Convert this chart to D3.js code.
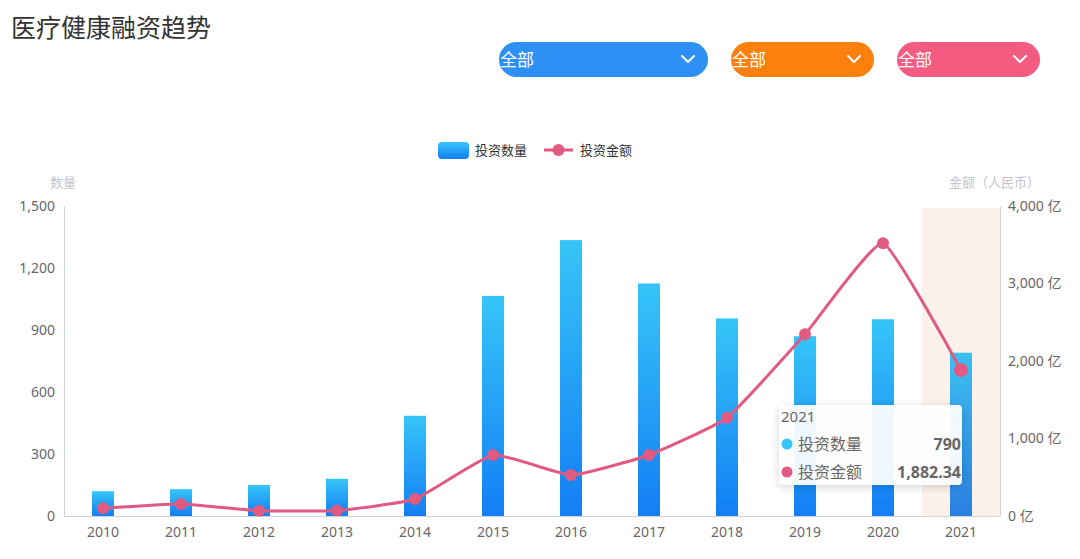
<!DOCTYPE html>
<html>
<head>
<meta charset="utf-8">
<script src="https://cdn.jsdelivr.net/npm/d3@7"></script>
<style>
  body { margin: 0; background: #fff; font-family: "Noto Sans", "Noto Sans CJK SC", sans-serif; }
  #chart { width: 1080px; height: 559px; }
</style>
</head>
<body>
<div id="chart"></div>
<script>
const years = ["2010","2011","2012","2013","2014","2015","2016","2017","2018","2019","2020","2021"];
const counts = [120, 130, 150, 180, 485, 1065, 1335, 1125, 956, 870, 952, 790];
const amounts = [100, 155, 68, 70, 219, 787, 529, 787, 1268, 2344, 3519, 1882.34];
const countTicks = [0, 300, 600, 900, 1200, 1500];
const amountTicks = [0, 1000, 2000, 3000, 4000];
const filters = [
  {label: "全部", color: "#2e8ff5", x: 499, w: 209},
  {label: "全部", color: "#fd800f", x: 731, w: 143},
  {label: "全部", color: "#f45b80", x: 897, w: 143}
];

const W = 1080, H = 559;
const margin = {top: 206, right: 80, bottom: 43, left: 64};
const width = W - margin.left - margin.right;
const height = H - margin.top - margin.bottom;
const font = '"Noto Sans", "Noto Sans CJK SC", sans-serif';
const cjk = '"Noto Sans CJK SC", sans-serif';
const lineColor = "#e05a82";

const svg = d3.select("#chart").append("svg")
  .attr("width", W).attr("height", H)
  .style("font-family", font);

const defs = svg.append("defs");
const grad = defs.append("linearGradient").attr("id", "barGrad")
  .attr("x1", 0).attr("y1", 0).attr("x2", 0).attr("y2", 1);
grad.append("stop").attr("offset", "0%").attr("stop-color", "#36c5f7");
grad.append("stop").attr("offset", "100%").attr("stop-color", "#137ef5");
const gradHi = defs.append("linearGradient").attr("id", "barGradHi")
  .attr("x1", 0).attr("y1", 0).attr("x2", 0).attr("y2", 1);
gradHi.append("stop").attr("offset", "0%").attr("stop-color", "#3cbff0");
gradHi.append("stop").attr("offset", "100%").attr("stop-color", "#2a7fe0");
const shadow = defs.append("filter").attr("id", "tipShadow")
  .attr("x", "-20%").attr("y", "-20%").attr("width", "140%").attr("height", "150%");
shadow.append("feDropShadow").attr("dx", 0).attr("dy", 2).attr("stdDeviation", 4)
  .attr("flood-color", "#000").attr("flood-opacity", 0.18);

// title
svg.append("text").attr("x", 11).attr("y", 37)
  .attr("font-size", 25).attr("fill", "#333")
  .attr("font-family", cjk)
  .text("医疗健康融资趋势");

// filter pills
filters.forEach(f => {
  const p = svg.append("g").attr("transform", `translate(${f.x},42)`);
  p.append("rect").attr("width", f.w).attr("height", 35).attr("rx", 17.5).attr("fill", f.color);
  p.append("text").attr("x", 1).attr("y", 24).attr("font-size", 17).attr("fill", "#fff")
    .attr("font-family", cjk).text(f.label);
  const cx = f.w - 20;
  p.append("path").attr("d", `M${cx - 6},${14} L${cx},${20} L${cx + 6},${14}`)
    .attr("fill", "none").attr("stroke", "#fff").attr("stroke-width", 2)
    .attr("stroke-linecap", "round").attr("stroke-linejoin", "round");
});

// legend
const lg = svg.append("g").attr("transform", "translate(0,150)");
lg.append("rect").attr("x", 438).attr("y", -8).attr("width", 31).attr("height", 17).attr("rx", 4)
  .attr("fill", "url(#barGrad)");
lg.append("text").attr("x", 475).attr("y", 5).attr("font-size", 13).attr("fill", "#333")
  .attr("font-family", cjk).text("投资数量");
lg.append("line").attr("x1", 544).attr("x2", 573).attr("y1", 0).attr("y2", 0)
  .attr("stroke", lineColor).attr("stroke-width", 3);
lg.append("circle").attr("cx", 558.5).attr("cy", 0).attr("r", 6).attr("fill", lineColor);
lg.append("text").attr("x", 580).attr("y", 5).attr("font-size", 13).attr("fill", "#333")
  .attr("font-family", cjk).text("投资金额");

const g = svg.append("g").attr("transform", `translate(${margin.left},${margin.top})`);

const x = d3.scaleBand().domain(years).range([0, width]).padding(0);
const yL = d3.scaleLinear().domain([0, 1500]).range([height, 0]);
const yR = d3.scaleLinear().domain([0, 4000]).range([height, 0]);
const barW = 22;
const hiYear = "2021";

// axis pointer shadow band
g.append("rect").attr("x", x(hiYear)).attr("y", 2).attr("width", x.bandwidth()).attr("height", height - 2)
  .attr("fill", "#fcefe9").attr("opacity", 0.9);

// axis names
svg.append("text").attr("x", 50).attr("y", 187).attr("font-size", 13).attr("fill", "#c4c4cc")
  .attr("font-family", cjk).text("数量");
svg.append("text").attr("x", 949).attr("y", 187).attr("font-size", 13).attr("fill", "#c4c4cc")
  .attr("font-family", cjk).text("金额（人民币）");

// axes
const axL = g.append("g").call(d3.axisLeft(yL).tickValues(countTicks).tickSize(0).tickPadding(9)
  .tickFormat(d3.format(",")));
const axR = g.append("g").attr("transform", `translate(${width},0)`)
  .call(d3.axisRight(yR).tickValues(amountTicks).tickSize(0).tickPadding(8)
    .tickFormat(d => d3.format(",")(d) + " 亿"));
const axB = g.append("g").attr("transform", `translate(0,${height})`)
  .call(d3.axisBottom(x).tickSize(0).tickPadding(11));
[axL, axR, axB].forEach(a => {
  a.select(".domain").attr("stroke", "#cfd3da");
  a.selectAll("text").attr("fill", "#666").attr("font-size", 14).attr("font-family", font);
});

// bars
g.selectAll(".bar").data(years).enter().append("rect")
  .attr("class", "bar")
  .attr("x", d => x(d) + (x.bandwidth() - barW) / 2)
  .attr("width", barW)
  .attr("y", (d, i) => yL(counts[i]))
  .attr("height", (d, i) => height - yL(counts[i]))
  .attr("fill", d => d === hiYear ? "url(#barGradHi)" : "url(#barGrad)");

// line
const cx = d => x(d) + x.bandwidth() / 2;
const line = d3.line().x((d, i) => cx(years[i])).y(d => yR(d)).curve(d3.curveCardinal.tension(0.6));
g.append("path").datum(amounts).attr("d", line)
  .attr("fill", "none").attr("stroke", lineColor).attr("stroke-width", 3);
g.selectAll(".dot").data(amounts).enter().append("circle")
  .attr("class", "dot")
  .attr("cx", (d, i) => cx(years[i])).attr("cy", d => yR(d))
  .attr("r", (d, i) => years[i] === hiYear ? 7 : 6)
  .attr("fill", lineColor);

// tooltip
const hi = years.indexOf(hiYear);
const tip = svg.append("g").attr("transform", "translate(779,405)");
tip.append("rect").attr("width", 183).attr("height", 80).attr("rx", 4)
  .attr("fill", "rgba(255,255,255,0.93)").attr("filter", "url(#tipShadow)");
tip.append("text").attr("x", 2).attr("y", 17).attr("font-size", 15).attr("fill", "#666").text(hiYear);
const rows = [
  {name: "投资数量", color: "#36c5f7", value: d3.format(",")(counts[hi])},
  {name: "投资金额", color: lineColor, value: d3.format(",.2f")(amounts[hi])}
];
rows.forEach((r, i) => {
  const yy = 39 + i * 28;
  tip.append("circle").attr("cx", 8).attr("cy", yy).attr("r", 5.5).attr("fill", r.color);
  tip.append("text").attr("x", 19).attr("y", yy + 6).attr("font-size", 16).attr("fill", "#666")
    .attr("font-family", cjk).text(r.name);
  tip.append("text").attr("x", 182).attr("y", yy + 6).attr("font-size", 16).attr("fill", "#666")
    .attr("font-weight", "bold").attr("text-anchor", "end").text(r.value);
});
</script>
</body>
</html>
